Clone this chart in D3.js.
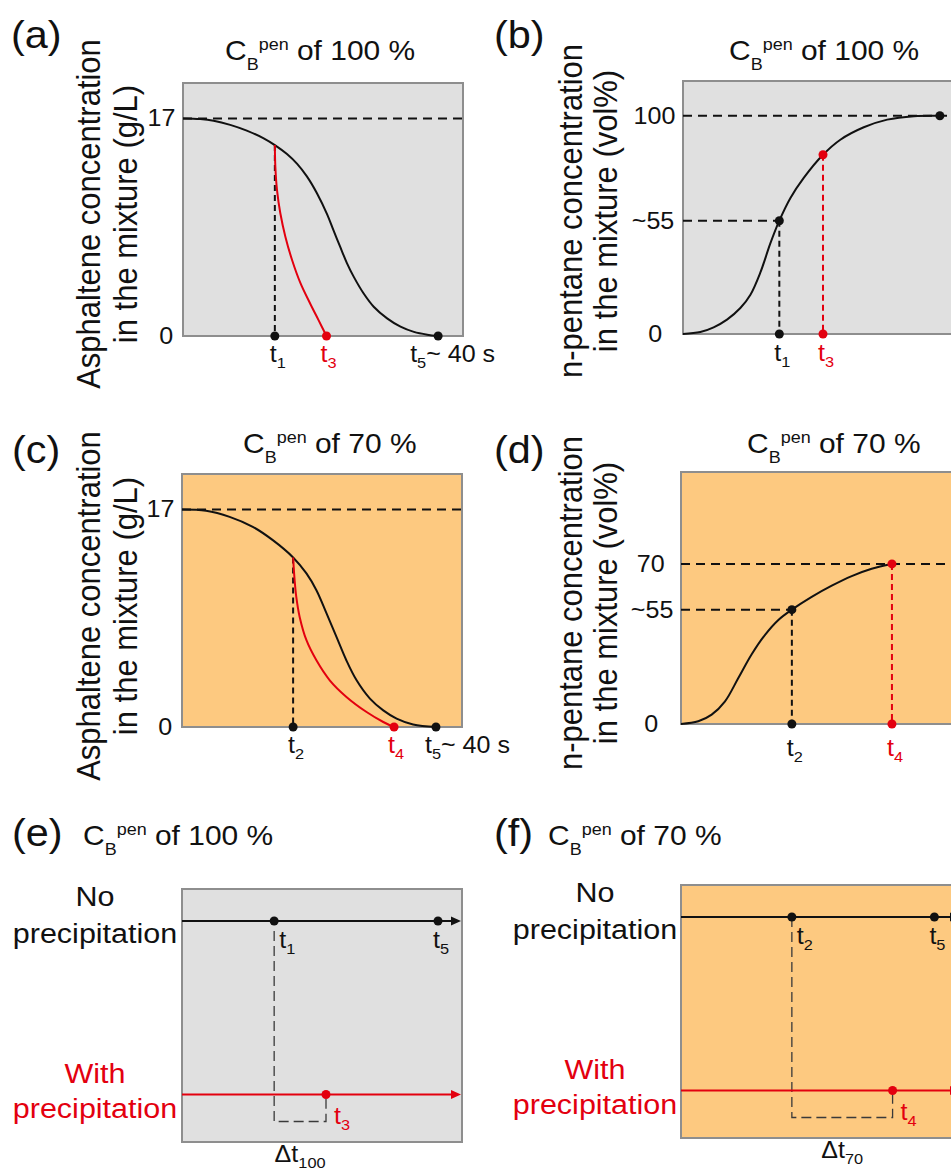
<!DOCTYPE html>
<html>
<head>
<meta charset="utf-8">
<script src="https://cdn.jsdelivr.net/npm/d3@7"></script>
<style>
  body { margin: 0; background: #fff; }
  svg { display: block; font-family: "Liberation Sans", Arial, Helvetica, sans-serif; }
  text { white-space: pre; }
</style>
</head>
<body>
<svg id="chart" width="951" height="1170"></svg>
<script>
'use strict';

// ---- values (time in s) ----
// asphaltene concentration in the mixture (g/L), C_B^pen = 100 %
const asphNoPrecip100 = [[0, 17], [2.7, 16.95], [4.8, 16.82], [7.4, 16.5], [10.0, 16.05], [12.65, 15.45],
  [14.4, 14.92], [16.3, 14.22], [17.9, 13.45], [19.45, 12.45], [21.0, 11.15], [22.6, 9.5], [23.6, 8.25],
  [24.7, 6.9], [25.7, 5.7], [26.8, 4.6], [28.3, 3.34], [29.9, 2.29], [32.0, 1.38], [34.1, 0.73],
  [36.2, 0.32], [38.3, 0.1], [40, 0]];
const asphWithPrecip100 = [[14.4, 14.92], [14.48, 13.2], [14.74, 11.4], [15.26, 9.59], [16.05, 7.76],
  [17.1, 5.94], [18.4, 4.15], [19.97, 2.5], [21.27, 1.22], [22.5, 0]];

// asphaltene concentration, C_B^pen = 70 %
const asphNoPrecip70 = [[0, 17], [3.8, 16.9], [7.5, 16.42], [11.15, 15.64], [14.3, 14.6], [17.5, 13.25],
  [19.6, 12.0], [21.17, 10.69], [22.75, 8.9], [24.33, 7.04], [25.9, 5.2], [27.5, 3.65], [29.6, 2.22],
  [31.7, 1.3], [33.8, 0.66], [36.4, 0.2], [40, 0]];
const asphWithPrecip70 = [[17.5, 13.25], [17.74, 11.47], [18.0, 10.16], [18.53, 8.6], [19.6, 6.78],
  [21.17, 5.21], [23.27, 3.65], [25.9, 2.35], [29.07, 1.17], [31.7, 0.39], [33.4, 0]];

// n-pentane concentration in the mixture (vol%)
const pentane100 = [[0, 0], [2.7, 0.9], [4.77, 3.05], [6.85, 6.57], [8.93, 11.9], [10.5, 18.0],
  [12.05, 28.2], [13.6, 41.5], [15.0, 51.9], [16.73, 62.3], [18.8, 71.5], [21.8, 82.1], [24.5, 89.0],
  [28.15, 94.7], [31.8, 98.2], [35.95, 99.8], [40, 100]];
const pentane70 = [[0, 0], [2.73, 1.17], [4.84, 4.08], [6.95, 9.9], [9.05, 20.1], [11.16, 30.5],
  [13.27, 39.0], [15.37, 45.5], [17.5, 50.0], [20.63, 55.6], [23.8, 60.5], [26.95, 64.7],
  [30.1, 67.9], [33.3, 70]];

// key times: [t1, t3, t5] for 100 %, [t2, t4, t5] for 70 %
const tKey100 = [14.4, 22.5, 40];
const tKey70 = [17.5, 33.4, 40];
const tKeyPen100 = [15.0, 21.8, 40];
const tKeyPen70 = [17.5, 33.3];
const penKey100 = [51.9, 82.1, 100];
const penKey70 = [50.0, 70];
const asphStart100 = 14.92;
const asphStart70 = 13.25;

// tick values and labels
const asphTicks = [0, 17];
const penTicks100 = [0, 51.9, 100];
const penTickLabels100 = ['0', '~55', '100'];
const penTicks70 = [0, 50, 70];
const penTickLabels70 = ['0', '~55', '70'];
const subs100 = ['1', '3', '5'];
const subs70 = ['2', '4', '5'];
const rowNames = ['No precipitation', 'With precipitation'];

// ---- layout ----
const layout = {
    a: { x: 183, y: 83, w: 280, h: 253, tMax: 43.9, yMax: 19.77 },
    b: { x: 683, y: 81, w: 280, h: 253, tMax: 43.6, yMax: 115.9 },
    c: { x: 182, y: 474, w: 280, h: 253, tMax: 44.1, yMax: 19.77 },
    d: { x: 681, y: 472, w: 280, h: 252, tMax: 44.2, yMax: 110.2 },
    e: { x: 182, y: 889, w: 280, h: 253, tMax: 43.75 },
    f: { x: 681, y: 885, w: 280, h: 253, tMax: 44.2 }
};

const SX = 1.09; // the figure's text is slightly wide
const INK = '#111';
const RED = '#e3000f';
const GREY_BG = '#e0e0e0';
const ORANGE_BG = '#fdc980';
const BORDER = '#8e8e8e';

const svg = d3.select('#chart');

function stretched(parent, x, y, rotate) {
    return parent.append('g')
        .attr('transform', `translate(${x},${y}) scale(${SX},1)` + (rotate ? ' rotate(-90)' : ''));
}

function addText(parent, x, y, str, size, opts) {
    opts = opts || {};
    return stretched(parent, x, y, opts.rotate).append('text')
        .attr('font-size', size)
        .attr('text-anchor', opts.anchor || 'start')
        .attr('fill', opts.color || INK)
        .text(str);
}

// "t" with a subscript, optionally followed by more text
function subLabel(parent, x, y, main, sub, opts) {
    opts = opts || {};
    const t = stretched(parent, x, y).append('text')
        .attr('text-anchor', opts.anchor || 'middle')
        .attr('fill', opts.color || INK)
        .attr('font-size', 23);
    t.append('tspan').text(main);
    t.append('tspan').attr('font-size', 15).attr('dy', 6).text(sub);
    if (opts.tail) t.append('tspan').attr('dy', -6).text(opts.tail);
    return t;
}

function title(x, y, pct) {
    const t = stretched(svg, x, y).append('text').attr('font-size', 27.5).attr('fill', INK);
    t.append('tspan').text('C');
    t.append('tspan').attr('font-size', 16.5).attr('dy', 10).text('B');
    t.append('tspan').attr('font-size', 16.5).attr('dy', -20).text('pen');
    t.append('tspan').attr('dy', 10).text(' of ' + pct + ' %');
}

function yLabel(x1, x2, cy, line1, line2) {
    addText(svg, x1, cy, line1, 31, { rotate: true, anchor: 'middle' });
    addText(svg, x2, cy, line2, 31, { rotate: true, anchor: 'middle' });
}

function frame(key, fill) {
    const p = layout[key];
    const g = svg.append('g').attr('transform', `translate(${p.x},${p.y})`);
    g.append('rect')
        .attr('width', p.w).attr('height', p.h)
        .attr('fill', fill).attr('stroke', BORDER).attr('stroke-width', 2);
    return g;
}

function dashed(g, x1, y1, x2, y2, color, dash) {
    g.append('line')
        .attr('x1', x1).attr('y1', y1).attr('x2', x2).attr('y2', y2)
        .attr('stroke', color).attr('stroke-width', 2).attr('stroke-dasharray', dash);
}

function dot(g, cx, cy, color) {
    g.append('circle').attr('cx', cx).attr('cy', cy).attr('r', 4.5).attr('fill', color);
}

function yAxis(g, y, ticks, labels, shift) {
    const ax = g.append('g')
        .call(d3.axisLeft(y).tickValues(ticks).tickSize(0).tickPadding(7)
            .tickFormat(function(d, i) { return labels[i]; }));
    ax.select('.domain').remove();
    ax.attr('font-family', null).attr('font-size', 23);
    ax.selectAll('text')
        .attr('fill', INK)
        .attr('dx', function(d, i) { return -(shift[i] || 0); })
        .attr('transform', `scale(${SX},1)`);
}

const smooth = d3.curveCatmullRom.alpha(0.5);

// asphaltene concentration panels (a), (c)
function asphPanel(key, fill, noPrecip, withPrecip, keyT, startC, subs, t5dx) {
    const p = layout[key];
    const g = frame(key, fill);
    const x = d3.scaleLinear().domain([0, p.tMax]).range([0, p.w]);
    const y = d3.scaleLinear().domain([0, p.yMax]).range([p.h, 0]);
    const line = d3.line().x(function(d) { return x(d[0]); }).y(function(d) { return y(d[1]); })
        .curve(smooth);

    yAxis(g, y, asphTicks, asphTicks.map(String), [2, 0]);
    dashed(g, 0, y(17), p.w, y(17), INK, '9,6');
    dashed(g, x(keyT[0]), y(startC), x(keyT[0]), p.h, INK, '6,4');

    g.append('path').datum(noPrecip).attr('d', line)
        .attr('fill', 'none').attr('stroke', INK).attr('stroke-width', 2);
    g.append('path').datum(withPrecip).attr('d', line)
        .attr('fill', 'none').attr('stroke', RED).attr('stroke-width', 2);

    dot(g, x(keyT[0]), p.h, INK);
    dot(g, x(keyT[1]), p.h, RED);
    dot(g, x(keyT[2]), p.h, INK);

    subLabel(g, x(keyT[0]) + 3, p.h + 26, 't', subs[0]);
    subLabel(g, x(keyT[1]) + 2, p.h + 26, 't', subs[1], { color: RED });
    subLabel(g, x(keyT[2]) + t5dx, p.h + 26, 't', subs[2], { anchor: 'start', tail: '~ 40 s' });
}

// n-pentane concentration panels (b), (d)
function pentanePanel(key, fill, curve, keyT, keyC, ticks, labels, shift, subs, labelDy) {
    const p = layout[key];
    const g = frame(key, fill);
    const x = d3.scaleLinear().domain([0, p.tMax]).range([0, p.w]);
    const y = d3.scaleLinear().domain([0, p.yMax]).range([p.h, 0]);
    const line = d3.line().x(function(d) { return x(d[0]); }).y(function(d) { return y(d[1]); })
        .curve(smooth);

    yAxis(g, y, ticks, labels, shift);
    dashed(g, 0, y(ticks[2]), p.w, y(ticks[2]), INK, '9,6');
    dashed(g, 0, y(keyC[0]), x(keyT[0]), y(keyC[0]), INK, '9,6');
    dashed(g, x(keyT[0]), y(keyC[0]), x(keyT[0]), p.h, INK, '6,4');
    dashed(g, x(keyT[1]), y(keyC[1]), x(keyT[1]), p.h, RED, '6,4');

    g.append('path').datum(curve).attr('d', line)
        .attr('fill', 'none').attr('stroke', INK).attr('stroke-width', 2);

    dot(g, x(keyT[0]), y(keyC[0]), INK);
    dot(g, x(keyT[1]), y(keyC[1]), RED);
    if (keyT.length > 2) dot(g, x(keyT[2]), y(keyC[2]), INK);
    dot(g, x(keyT[0]), p.h, INK);
    dot(g, x(keyT[1]), p.h, RED);

    subLabel(g, x(keyT[0]) + 3, p.h + labelDy, 't', subs[0]);
    subLabel(g, x(keyT[1]) + 3, p.h + labelDy, 't', subs[1], { color: RED });
}

// time-line panels (e), (f)
function timelinePanel(key, fill, keyT, subs, deltaSub, rowLabelX, bracketGap) {
    const p = layout[key];
    const g = frame(key, fill);
    const x = d3.scaleLinear().domain([0, p.tMax]).range([0, p.w]);
    const row = d3.scalePoint().domain(rowNames).range([32, 205.5]);
    const y0 = row(rowNames[0]);
    const y1 = row(rowNames[1]);

    // bracket between the two onsets
    g.append('path')
        .attr('d', `M${x(keyT[0])},${y0 + bracketGap}V${y1 + 27}H${x(keyT[1])}V${y1 + 4}`)
        .attr('fill', 'none').attr('stroke', '#3a3a3a').attr('stroke-width', 1.3)
        .attr('stroke-dasharray', '10,5');

    [[y0, INK], [y1, RED]].forEach(function(r) {
        g.append('line').attr('x1', 0).attr('x2', p.w - 9).attr('y1', r[0]).attr('y2', r[0])
            .attr('stroke', r[1]).attr('stroke-width', 2);
        g.append('path')
            .attr('d', `M${p.w - 11},${r[0] - 4.5}L${p.w - 1},${r[0]}L${p.w - 11},${r[0] + 4.5}Z`)
            .attr('fill', r[1]);
    });

    dot(g, x(keyT[0]), y0, INK);
    dot(g, x(keyT[2]), y0, INK);
    dot(g, x(keyT[1]), y1, RED);

    subLabel(g, x(keyT[0]) + 5, y0 + 27, 't', subs[0], { anchor: 'start' });
    subLabel(g, x(keyT[2]) - 5, y0 + 27, 't', subs[2], { anchor: 'start' });
    subLabel(g, x(keyT[1]) + 8, y1 + 29, 't', subs[1], { anchor: 'start', color: RED });

    // delta t under the panel
    const dl = stretched(g, (x(keyT[0]) + x(keyT[1])) / 2, p.h + 20).append('text')
        .attr('text-anchor', 'middle').attr('fill', INK).attr('font-size', 23);
    dl.append('tspan').text('\u0394t');
    dl.append('tspan').attr('font-size', 15).attr('dy', 6).text(deltaSub);

    // row names, left of the panel
    const lx = rowLabelX - p.x;
    addText(g, lx, y0 - 15, 'No', 28, { anchor: 'middle' });
    addText(g, lx, y0 + 22, 'precipitation', 28, { anchor: 'middle' });
    addText(g, lx, y1 - 12, 'With', 28, { anchor: 'middle', color: RED });
    addText(g, lx, y1 + 23, 'precipitation', 28, { anchor: 'middle', color: RED });
}

// ---- draw ----
asphPanel('a', GREY_BG, asphNoPrecip100, asphWithPrecip100, tKey100, asphStart100, subs100, -28);
asphPanel('c', ORANGE_BG, asphNoPrecip70, asphWithPrecip70, tKey70, asphStart70, subs70, -11);
pentanePanel('b', GREY_BG, pentane100, tKeyPen100, penKey100, penTicks100, penTickLabels100,
    [12, 1, 0], ['1', '3'], 27);
pentanePanel('d', ORANGE_BG, pentane70, tKeyPen70, penKey70, penTicks70, penTickLabels70,
    [14, 0, 8], ['2', '4'], 32);
timelinePanel('e', GREY_BG, tKey100, subs100, '100', 95, 10);
timelinePanel('f', ORANGE_BG, tKey70, subs70, '70', 595, 0);

// panel letters and titles
[['(a)', 11, 48], ['(b)', 494, 48], ['(c)', 12, 463], ['(d)', 494, 463], ['(e)', 12, 846], ['(f)', 494, 846]]
    .forEach(function(l) { addText(svg, l[1], l[2], l[0], 38); });
title(225, 60, '100');
title(729, 60, '100');
title(243, 453, '70');
title(747, 453, '70');
title(83, 845, '100');
title(548, 845, '70');

// rotated y-axis titles
yLabel(100, 137, 214, 'Asphaltene concentration', 'in the mixture (g/L)');
yLabel(100, 137, 606, 'Asphaltene concentration', 'in the mixture (g/L)');
yLabel(582, 617, 211, 'n-pentane concentration', 'in the mixture (vol%)');
yLabel(582, 617, 603, 'n-pentane concentration', 'in the mixture (vol%)');
</script>
</body>
</html>
